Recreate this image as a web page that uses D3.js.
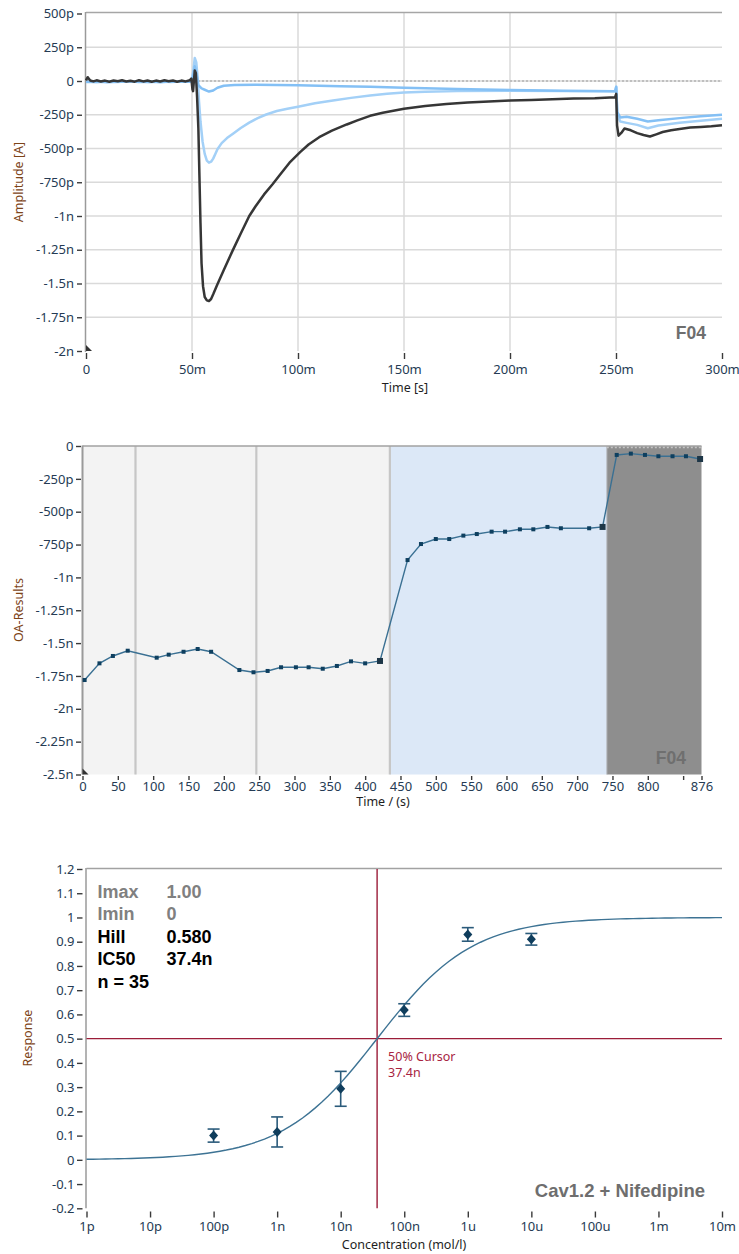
<!DOCTYPE html>
<html>
<head>
<meta charset="utf-8">
<script src="https://cdn.jsdelivr.net/npm/d3@7"></script>
<style>
  html, body { margin: 0; padding: 0; background: #fff; }
  svg { display: block; }
  .tick text { font-family: "Noto Sans", sans-serif; font-size: 13px; fill: #253b54; }
  .tick line { stroke: #3a3a3a; stroke-width: 1.4; }
</style>
</head>
<body>
<svg id="fig" width="739" height="1254"></svg>
<script>
// ---------- Panel 1: whole-cell current traces (time in ms, current in pA) ----------
const blackTime = [0, 0.8, 2, 3.5, 5, 7, 9, 11, 13, 15, 17, 19, 21, 23, 25, 27, 29, 31, 33, 35, 37, 39, 41, 43, 45, 47,
  49, 49.7, 50.2, 50.5, 50.9, 51.3, 51.8, 52.4, 53, 53.5, 54, 54.5, 55.2, 56, 57, 58, 59, 60, 62, 65, 69, 73, 77, 80,
  84, 88, 91.5, 96, 101, 105, 110, 116, 123, 128, 134, 140, 150, 160, 170, 180, 190, 200, 210, 220, 230, 240, 249.6,
  250.1, 250.5, 251.2, 252.5, 254, 257, 260, 263, 266, 269, 272, 276, 280, 285, 290, 295, 300];
const blackCurrent = [5, 28, 4, -3, 5, -4, 3, -5, 4, -2, 5, -4, 2, -5, 6, -3, 4, -5, 3, -4, 5, -2, 4, -5, 3, -3, 6, 18,
  -60, -75, 0, 78, 60, -120, -350, -700, -1050, -1350, -1520, -1600, -1625, -1630, -1615, -1580, -1505, -1400, -1262,
  -1130, -1000, -928, -840, -765, -695, -605, -527, -470, -416, -368, -322, -292, -258, -235, -205, -185, -170, -160,
  -152, -145, -140, -135, -130, -127, -120, -95, -330, -405, -385, -352, -365, -386, -400, -411, -395, -378, -365,
  -355, -345, -340, -335, -328];

const blueATime = [0, 5, 10, 15, 20, 25, 30, 35, 40, 45, 49.5, 50.5, 51.3, 52, 52.7, 53.3, 54, 55, 56, 57, 58, 59, 60,
  61, 62, 64, 66.5, 69.5, 73, 77, 81, 85, 90, 95, 100, 108, 116.5, 125, 134, 142, 150, 160, 175, 200, 225, 249.6,
  250.1, 250.6, 252, 255, 260, 265, 270, 280, 290, 300];
const blueACurrent = [-5, -9, -3, -7, -2, -6, -9, -4, -7, -3, -5, 60, 170, 140, 20, -150, -300, -450, -540, -590, -605,
  -598, -575, -540, -505, -460, -423, -388, -348, -308, -275, -248, -222, -205, -190, -165, -145, -125, -107, -95, -85,
  -80, -75, -72, -75, -78, -40, -250, -300, -310, -325, -350, -330, -310, -295, -280];

const blueBTime = [0, 5, 10, 15, 20, 25, 30, 35, 40, 45, 49.5, 50.5, 51.3, 52, 53, 54.5, 56, 58, 60, 62, 65, 70, 80, 90,
  100, 110, 120, 134, 150, 175, 200, 225, 249.6, 250.1, 250.6, 252, 255, 260, 265, 270, 280, 290, 300];
const blueBCurrent = [-8, -3, -10, -5, -2, -8, -4, -9, -3, -6, -5, 30, 110, 60, -30, -55, -65, -78, -70, -50, -35, -30,
  -28, -30, -32, -35, -38, -42, -50, -60, -67, -72, -75, -45, -230, -270, -265, -280, -300, -290, -275, -262, -250];

const traceTimeTicks = [0, 50, 100, 150, 200, 250, 300];
const traceTimeLabels = ["0", "50m", "100m", "150m", "200m", "250m", "300m"];
const traceAmpTicks = [500, 250, 0, -250, -500, -750, -1000, -1250, -1500, -1750, -2000];
const traceAmpLabels = ["500p", "250p", "0", "-250p", "-500p", "-750p", "-1n", "-1.25n", "-1.5n", "-1.75n", "-2n"];

// ---------- Panel 2: online-analysis results over the experiment (s, nA) ----------
const oaTime = [3, 24, 43, 64, 105, 122, 143, 163, 182, 222, 242, 262, 281, 302, 320, 340, 360, 380, 400, 421,
  460, 479, 500, 519, 539, 558, 579, 598, 619, 638, 658, 677, 717, 736,
  756, 776, 796, 815, 835, 854, 874];
const oaValue = [-1.781, -1.654, -1.598, -1.558, -1.611, -1.588, -1.566, -1.545, -1.566, -1.705, -1.722, -1.712,
  -1.684, -1.684, -1.684, -1.695, -1.674, -1.639, -1.654, -1.636,
  -0.868, -0.746, -0.708, -0.708, -0.682, -0.670, -0.652, -0.652, -0.634, -0.634, -0.616, -0.626, -0.626, -0.616,
  -0.068, -0.058, -0.068, -0.078, -0.078, -0.078, -0.099];
const oaSegmentEnds = [421, 736, 874];          // last sweep of each application
const phaseStart = [0, 435, 742];               // application periods (s)
const phaseEnd = [435, 742, 876];
const phaseMarkers = [75, 246, 435];            // solution-exchange markers (s)
const oaTimeTicks = [0, 50, 100, 150, 200, 250, 300, 350, 400, 450, 500, 550, 600, 650, 700, 750, 800, 850, 876];
const oaTimeLabels = ["0", "50", "100", "150", "200", "250", "300", "350", "400", "450", "500", "550", "600", "650",
  "700", "750", "800", "", "876"];
const oaValueTicks = [0, -0.25, -0.5, -0.75, -1, -1.25, -1.5, -1.75, -2, -2.25, -2.5];
const oaValueLabels = ["0", "-250p", "-500p", "-750p", "-1n", "-1.25n", "-1.5n", "-1.75n", "-2n", "-2.25n", "-2.5n"];

// ---------- Panel 3: concentration-response (mol/l vs normalised response) ----------
const concentration = [1e-10, 1e-9, 1e-8, 1e-7, 1e-6, 1e-5];
const response = [0.100, 0.115, 0.293, 0.618, 0.930, 0.910];
const responseErr = [0.027, 0.062, 0.072, 0.026, 0.028, 0.024];
const fitImax = 1.00, fitImin = 0, fitHill = 0.580, fitIC50 = 37.4e-9, nCells = 35;
const concTicks = [1e-12, 1e-11, 1e-10, 1e-9, 1e-8, 1e-7, 1e-6, 1e-5, 1e-4, 1e-3, 1e-2];
const concLabels = ["1p", "10p", "100p", "1n", "10n", "100n", "1u", "10u", "100u", "1m", "10m"];
const respTicks = [1.2, 1.1, 1, 0.9, 0.8, 0.7, 0.6, 0.5, 0.4, 0.3, 0.2, 0.1, 0, -0.1, -0.2];
const respLabels = ["1.2", "1.1", "1", "0.9", "0.8", "0.7", "0.6", "0.5", "0.4", "0.3", "0.2", "0.1", "0", "-0.1", "-0.2"];

// ---------- shared styling ----------
const TITLE_COLOR = "#7d4418";
const AXIS_GRAY = "#9a9a9a";
const svg = d3.select("#fig");

function yAxis(g, scale, ticks, labels, x, size, pad) {
  g.attr("transform", `translate(${x},0)`)
    .call(d3.axisLeft(scale).tickValues(ticks).tickSize(size).tickPadding(pad)
      .tickFormat((d, i) => labels[i]))
    .call(a => a.select(".domain").remove());
}
function xAxis(g, scale, ticks, labels, y, size, pad) {
  g.attr("transform", `translate(0,${y})`)
    .call(d3.axisBottom(scale).tickValues(ticks).tickSize(size).tickPadding(pad)
      .tickFormat((d, i) => labels[i]))
    .call(a => a.select(".domain").remove());
}
function axisTitleY(text, x, y) {
  svg.append("text").attr("transform", `translate(${x},${y}) rotate(-90)`)
    .attr("text-anchor", "middle").attr("font-family", "Noto Sans, sans-serif")
    .attr("font-size", 12.5).attr("fill", TITLE_COLOR).text(text);
}
function axisTitleX(text, x, y) {
  svg.append("text").attr("x", x).attr("y", y).attr("text-anchor", "middle")
    .attr("font-family", "Noto Sans, sans-serif").attr("font-size", 12.5).attr("fill", "#1e1e1e").text(text);
}
function cornerMark(x, y) {
  svg.append("path").attr("d", `M${x},${y - 6} L${x + 6},${y} L${x},${y} Z`).attr("fill", "#333");
}

// ================= Panel 1 =================
{
  const x = d3.scaleLinear().domain([0, 300]).range([86, 722]);
  const y = d3.scaleLinear().domain([500, -2000]).range([13.5, 351]);
  const g = svg.append("g");

  // grid
  g.selectAll(".vg").data(traceTimeTicks.slice(1, -1)).join("line")
    .attr("x1", d => x(d)).attr("x2", d => x(d)).attr("y1", y(500) - 1).attr("y2", y(-2000))
    .attr("stroke", "#dadada").attr("stroke-width", 1.5);
  g.selectAll(".hg").data(traceAmpTicks.slice(1, -1)).join("line")
    .attr("x1", x(0)).attr("x2", x(300)).attr("y1", d => y(d)).attr("y2", d => y(d))
    .attr("stroke", "#dadada").attr("stroke-width", 1.5);
  // zero reference
  g.append("line").attr("x1", x(0)).attr("x2", x(300)).attr("y1", y(0)).attr("y2", y(0))
    .attr("stroke", "#b4b4b4").attr("stroke-width", 1.3).attr("stroke-dasharray", "2,2");
  // frame
  g.append("line").attr("x1", x(0)).attr("x2", x(300)).attr("y1", y(500) - 1).attr("y2", y(500) - 1)
    .attr("stroke", "#a6a6a6").attr("stroke-width", 1.5);
  g.append("line").attr("x1", x(0) - 0.5).attr("x2", x(0) - 0.5).attr("y1", y(500) - 1.5).attr("y2", y(-2000) + 1)
    .attr("stroke", AXIS_GRAY).attr("stroke-width", 1.5);

  const line = d3.line().x(d => x(d[0])).y(d => y(d[1]));
  const traces = [
    { t: blueATime, v: blueACurrent, color: "#a3d0f7" },
    { t: blueBTime, v: blueBCurrent, color: "#84c0f5" },
    { t: blackTime, v: blackCurrent, color: "#363636" }
  ];
  traces.forEach(s => {
    g.append("path").datum(s.t.map((t, i) => [t, s.v[i]]))
      .attr("d", line).attr("fill", "none").attr("stroke", s.color)
      .attr("stroke-width", 2.5).attr("stroke-linejoin", "round");
  });

  svg.append("g").call(a => yAxis(a, y, traceAmpTicks, traceAmpLabels, 82, 5, 3));
  svg.append("g").call(a => xAxis(a, x, traceTimeTicks, traceTimeLabels, 353, 6, 5.5));
  cornerMark(x(0), y(-2000));

  svg.append("text").attr("x", 706).attr("y", 339).attr("text-anchor", "end")
    .attr("font-family", "Liberation Sans, Arial, sans-serif").attr("font-weight", "bold")
    .attr("font-size", 17.5).attr("fill", "#6e6e6e").text("F04");
  axisTitleY("Amplitude [A]", 23, 182);
  axisTitleX("Time [s]", 405, 392);
}

// ================= Panel 2 =================
{
  const x = d3.scaleLinear().domain([0, 876]).range([82.5, 701.5]);
  const y = d3.scaleLinear().domain([0, -2.5]).range([446, 774.5]);
  const g = svg.append("g");
  const phaseFill = ["#f3f3f3", "#dce8f7", "#8e8e8e"];

  g.selectAll(".phase").data(phaseStart).join("rect")
    .attr("x", d => x(d)).attr("y", y(0))
    .attr("width", (d, i) => x(phaseEnd[i]) - x(d)).attr("height", y(-2.5) - y(0))
    .attr("fill", (d, i) => phaseFill[i]);
  g.selectAll(".marker").data(phaseMarkers).join("line")
    .attr("x1", d => x(d)).attr("x2", d => x(d)).attr("y1", y(0)).attr("y2", y(-2.5))
    .attr("stroke", "#c6c6c6").attr("stroke-width", 2.2);
  g.append("line").attr("x1", x(742)).attr("x2", x(742)).attr("y1", y(0)).attr("y2", y(-2.5))
    .attr("stroke", "#b8bcc2").attr("stroke-width", 1);
  // frame
  g.append("line").attr("x1", x(0)).attr("x2", x(876)).attr("y1", y(0)).attr("y2", y(0))
    .attr("stroke", "#a2a2a2").attr("stroke-width", 1.5);
  g.append("line").attr("x1", x(742)).attr("x2", x(876)).attr("y1", y(0) + 1.5).attr("y2", y(0) + 1.5)
    .attr("stroke", "#c4c4c4").attr("stroke-width", 1.4).attr("stroke-dasharray", "2,2");
  g.append("line").attr("x1", x(0)).attr("x2", x(0)).attr("y1", y(0) - 0.5).attr("y2", y(-2.5))
    .attr("stroke", AXIS_GRAY).attr("stroke-width", 2);

  const pts = oaTime.map((t, i) => [t, oaValue[i]]);
  g.append("path").datum(pts)
    .attr("d", d3.line().x(d => x(d[0])).y(d => y(d[1])))
    .attr("fill", "none").attr("stroke", "#3a7093").attr("stroke-width", 1.4);
  g.selectAll(".pt").data(pts).join("rect")
    .attr("x", d => x(d[0]) - (oaSegmentEnds.includes(d[0]) ? 3 : 2))
    .attr("y", d => y(d[1]) - (oaSegmentEnds.includes(d[0]) ? 3 : 2))
    .attr("width", d => oaSegmentEnds.includes(d[0]) ? 6 : 4)
    .attr("height", d => oaSegmentEnds.includes(d[0]) ? 6 : 4)
    .attr("fill", d => oaSegmentEnds.includes(d[0]) ? "#1d3647" : "#0e3f5f");

  svg.append("g").call(a => yAxis(a, y, oaValueTicks, oaValueLabels, 81, 5, 2.5));
  svg.append("g").call(a => xAxis(a, x, oaTimeTicks, oaTimeLabels, 776, 4, 1.5));
  cornerMark(x(0), y(-2.5));

  svg.append("text").attr("x", 686).attr("y", 764).attr("text-anchor", "end")
    .attr("font-family", "Liberation Sans, Arial, sans-serif").attr("font-weight", "bold")
    .attr("font-size", 17.5).attr("fill", "#6f6f6f").text("F04");
  axisTitleY("OA-Results", 23, 610);
  axisTitleX("Time / (s)", 383, 806);
}

// ================= Panel 3 =================
{
  const x = d3.scaleLog().domain([1e-12, 1e-2]).range([86.5, 722]);
  const y = d3.scaleLinear().domain([1.2, -0.2]).range([869, 1208.3]);
  const g = svg.append("g");
  const CURSOR = "#9b1c38";

  // frame
  g.append("line").attr("x1", x(1e-12)).attr("x2", x(1e-2)).attr("y1", y(1.2) - 0.5).attr("y2", y(1.2) - 0.5)
    .attr("stroke", "#a2a2a2").attr("stroke-width", 1.5);
  g.append("line").attr("x1", x(1e-12) - 0.5).attr("x2", x(1e-12) - 0.5).attr("y1", y(1.2) - 1).attr("y2", y(-0.2))
    .attr("stroke", AXIS_GRAY).attr("stroke-width", 1.5);

  // 50 % cursor
  g.append("line").attr("x1", x(1e-12)).attr("x2", x(1e-2)).attr("y1", y(0.5)).attr("y2", y(0.5))
    .attr("stroke", CURSOR).attr("stroke-width", 1.4);
  g.append("line").attr("x1", x(fitIC50)).attr("x2", x(fitIC50)).attr("y1", y(1.2)).attr("y2", y(-0.2))
    .attr("stroke", CURSOR).attr("stroke-width", 1.4);

  // Hill fit with the stated parameters
  const hill = c => fitImin + (fitImax - fitImin) / (1 + Math.pow(fitIC50 / c, fitHill));
  const fitPts = d3.range(-12, -1.999, 0.1).map(e => Math.pow(10, e));
  g.append("path").datum(fitPts)
    .attr("d", d3.line().x(c => x(c)).y(c => y(hill(c))))
    .attr("fill", "none").attr("stroke", "#3d7394").attr("stroke-width", 1.4);

  // mean ± error
  const cap = 6;
  concentration.forEach((c, i) => {
    const cx = x(c), top = y(response[i] + responseErr[i]), bot = y(response[i] - responseErr[i]);
    const eg = g.append("g").attr("stroke", "#2b5b7b").attr("stroke-width", 1.6);
    eg.append("line").attr("x1", cx).attr("x2", cx).attr("y1", top).attr("y2", bot);
    eg.append("line").attr("x1", cx - cap).attr("x2", cx + cap).attr("y1", top).attr("y2", top);
    eg.append("line").attr("x1", cx - cap).attr("x2", cx + cap).attr("y1", bot).attr("y2", bot);
    const cy = y(response[i]);
    g.append("path").attr("d", `M${cx},${cy - 5} L${cx + 4.5},${cy} L${cx},${cy + 5} L${cx - 4.5},${cy} Z`)
      .attr("fill", "#0f3d5c");
  });

  svg.append("g").call(a => yAxis(a, y, respTicks, respLabels, 82.5, 5.5, 2.5));
  svg.append("g").call(a => xAxis(a, x, concTicks, concLabels, 1211.5, 6, 4.3));

  // fit summary
  const si = d3.format(".3~s");
  const stats = [
    ["Imax", fitImax.toFixed(2), "#808080"],
    ["Imin", String(fitImin), "#808080"],
    ["Hill", fitHill.toFixed(3), "#000"],
    ["IC50", si(fitIC50), "#000"],
    [`n = ${nCells}`, "", "#000"]
  ];
  stats.forEach((r, i) => {
    const by = 898 + i * 22.4;
    [[r[0], 97.5], [r[1], 166.5]].forEach(([txt, tx]) => {
      svg.append("text").attr("x", tx).attr("y", by)
        .attr("font-family", "Liberation Sans, Arial, sans-serif").attr("font-weight", "bold")
        .attr("font-size", 18).attr("fill", r[2]).text(txt);
    });
  });

  svg.append("text").attr("x", x(fitIC50) + 11).attr("y", 1061)
    .attr("font-family", "Noto Sans, sans-serif").attr("font-size", 12.5).attr("fill", "#a8243f")
    .text("50% Cursor");
  svg.append("text").attr("x", x(fitIC50) + 11).attr("y", 1077)
    .attr("font-family", "Noto Sans, sans-serif").attr("font-size", 12.5).attr("fill", "#a8243f")
    .text(si(fitIC50));

  svg.append("text").attr("x", 705).attr("y", 1197).attr("text-anchor", "end")
    .attr("font-family", "Liberation Sans, Arial, sans-serif").attr("font-weight", "bold")
    .attr("font-size", 18.5).attr("fill", "#6e6e6e").text("Cav1.2 + Nifedipine");
  axisTitleY("Response", 32, 1038);
  axisTitleX("Concentration (mol/l)", 404, 1249);
}
</script>
</body>
</html>
